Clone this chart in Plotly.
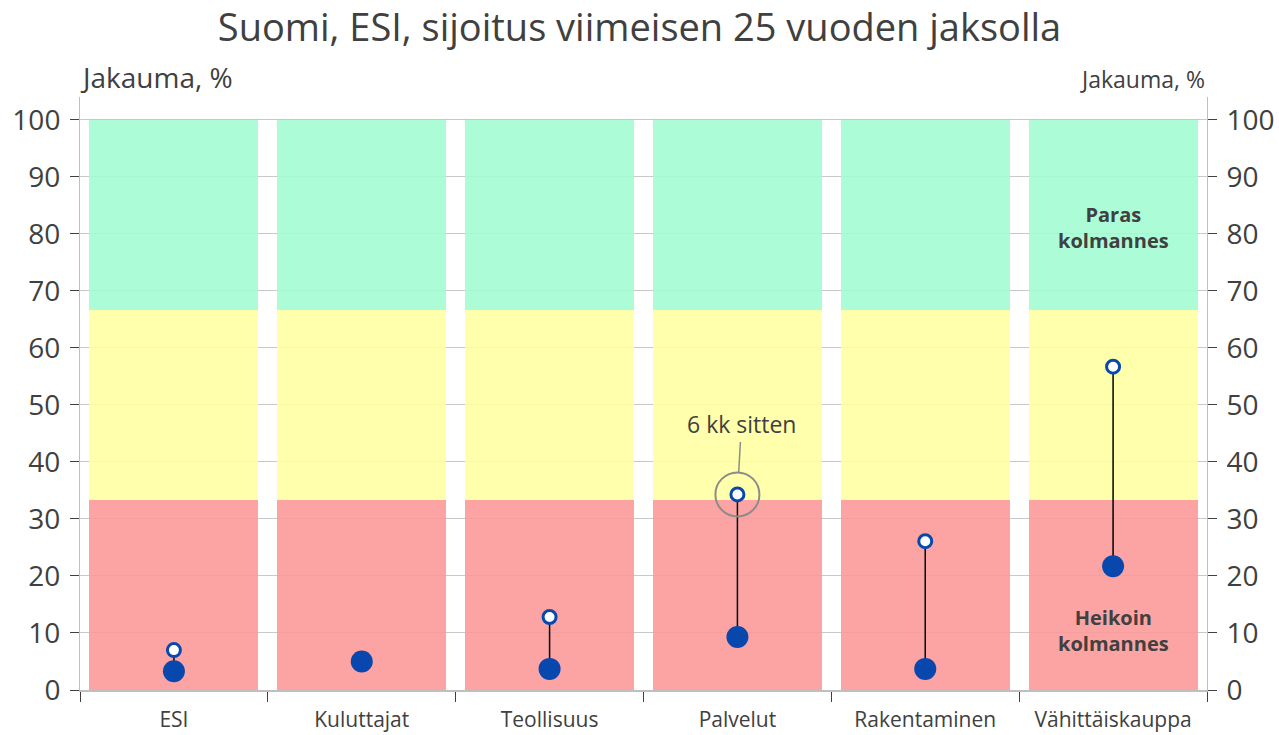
import plotly.graph_objects as go

categories = ["ESI", "Kuluttajat", "Teollisuus", "Palvelut", "Rakentaminen", "Vähittäiskauppa"]
current = [3.3, 5.0, 3.7, 9.3, 3.7, 21.7]
six_months_ago = [7.0, 5.0, 12.8, 34.3, 26.1, 56.7]
bands = [("Heikoin", 33.33, "rgba(252,150,150,0.88)"),
         ("Keski", 33.33, "rgba(255,255,160,0.88)"),
         ("Paras", 33.34, "rgba(160,252,210,0.88)")]
y_ticks = list(range(0, 101, 10))

TXT = "#404040"
FONT = "Open Sans"

fig = go.Figure()
for name, h, col in bands:
    fig.add_trace(go.Bar(x=categories, y=[h] * len(categories), marker_color=col,
                         marker_line_width=0, width=0.9, showlegend=False, hoverinfo="skip"))

lx, ly = [], []
for c, a, b in zip(categories, six_months_ago, current):
    lx += [c, c, None]
    ly += [a, b, None]
fig.add_trace(go.Scatter(x=lx, y=ly, mode="lines", line=dict(color="black", width=1.5),
                         showlegend=False, hoverinfo="skip"))
fig.add_trace(go.Scatter(x=categories, y=six_months_ago, mode="markers",
                         marker=dict(size=13, color="white", line=dict(color="#0848AE", width=3)),
                         showlegend=False))
fig.add_trace(go.Scatter(x=categories, y=current, mode="markers",
                         marker=dict(size=22, color="#0848AE"), showlegend=False))
# highlight circle around Palvelut previous value
fig.add_trace(go.Scatter(x=[categories[3]], y=[six_months_ago[3]], mode="markers",
                         marker=dict(size=44, color="rgba(0,0,0,0)", symbol="circle",
                                     line=dict(color="#8C8C8C", width=2)),
                         showlegend=False, hoverinfo="skip"))
# dummy for right axis
fig.add_trace(go.Scatter(x=[categories[0]], y=[0], yaxis="y2", mode="markers",
                         marker=dict(opacity=0), showlegend=False, hoverinfo="skip"))

fig.add_annotation(x=categories[3], y=six_months_ago[3], text="6 kk sitten", showarrow=True,
                   arrowhead=0, arrowcolor="#8C8C8C", arrowwidth=1.5, ax=4, ay=-70,
                   standoff=22, font=dict(family=FONT, size=23, color=TXT))
fig.add_annotation(x=categories[5], y=80.9, text="<b>Paras<br>kolmannes</b>", showarrow=False,
                   font=dict(family=FONT, size=20, color=TXT), yshift=1)
fig.add_annotation(x=categories[5], y=10.2, text="<b>Heikoin<br>kolmannes</b>", showarrow=False,
                   font=dict(family=FONT, size=20, color=TXT), yshift=1)
fig.add_annotation(xref="paper", yref="paper", x=0, y=1, xanchor="left", yanchor="bottom",
                   xshift=-2, yshift=-1,
                   text="Jakauma, %", showarrow=False, font=dict(family=FONT, size=28, color=TXT))
fig.add_annotation(xref="paper", yref="paper", x=1, y=1, xanchor="right", yanchor="bottom",
                   yshift=0,
                   text="Jakauma, %", showarrow=False, font=dict(family=FONT, size=23, color=TXT))

yax = dict(range=[0, 104], tickvals=y_ticks, showgrid=True, gridcolor="#C8C8C8", gridwidth=1,
           showline=True, linecolor="#BFBFBF", linewidth=1, ticks="outside", ticklen=9,
           tickcolor="#404040", tickfont=dict(family=FONT, size=28, color=TXT), zeroline=False,
           automargin=False, ticklabelstandoff=4)
fig.update_layout(
    width=1279, height=735, barmode="stack", bargap=0.1,
    paper_bgcolor="white", plot_bgcolor="white",
    margin=dict(l=80, r=72, t=97, b=45, autoexpand=False),
    title=dict(text="Suomi, ESI, sijoitus viimeisen 25 vuoden jaksolla", x=0.5, xanchor="center",
               y=0.963, yanchor="middle", font=dict(family=FONT, size=38, color=TXT)),
    xaxis=dict(tickson="boundaries", ticks="outside", ticklen=10, tickcolor="#404040",
               showline=True, linecolor="#BFBFBF", linewidth=2, automargin=False,
               ticklabelstandoff=10,
               tickfont=dict(family=FONT, size=21, color=TXT)),
    yaxis=yax,
    yaxis2=dict(yax, overlaying="y", side="right", showgrid=False),
)
fig.write_html("out.html", config={"displayModeBar": False},
               post_script="document.body.style.margin='0';document.body.style.overflow='hidden';")
